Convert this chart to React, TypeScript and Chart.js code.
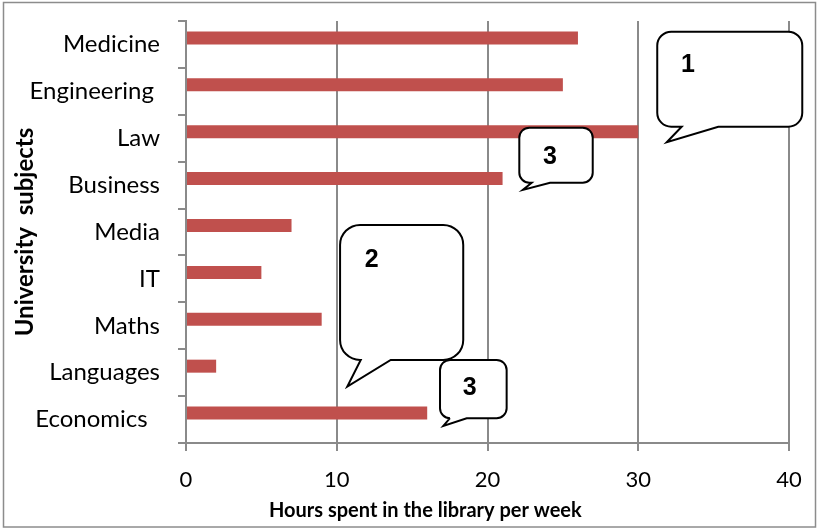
import { useEffect, useRef } from "react";
import { Chart, registerables } from "chart.js";

Chart.register(...registerables);

// Subjects listed top to bottom; trailing spaces keep the label indents.
const subjects = [
  "Medicine",
  "Engineering ",
  "Law",
  "Business",
  "Media",
  "IT",
  "Maths",
  "Languages",
  "Economics  ",
];
const hoursPerWeek = [26, 25, 30, 21, 7, 5, 9, 2, 16];
// Empty partner series: holds the second slot of each bar cluster.
const partnerSeries = [null, null, null, null, null, null, null, null, null];
const hourTicks = [0, 10, 20, 30, 40];

const xTitle = "Hours spent in the library per week";
const yTitle = "University  subjects";

// Speech-bubble callouts, placed in axis units (x: hours, y: row index).
type Callout = {
  label: string;
  left: number;
  right: number;
  top: number;
  bottom: number;
  tailStart: number;
  tailEnd: number;
  tipX: number;
  tipY: number;
  textX: number;
  textY: number;
  radius: number;
};

const callouts: Callout[] = [
  { label: "1", left: 31.26, right: 40.88, top: -0.272, bottom: 1.754, tailStart: 32.88, tailEnd: 35.31, tipX: 31.89, tipY: 2.086, textX: 33.3, textY: 0.449, radius: 14 },
  { label: "3", left: 22.11, right: 26.98, top: 1.775, bottom: 2.948, tailStart: 22.93, tailEnd: 24.15, tipX: 22.34, tipY: 3.103, textX: 24.15, textY: 2.393, radius: 10 },
  { label: "2", left: 10.22, right: 18.39, top: 3.85, bottom: 6.728, tailStart: 11.59, tailEnd: 13.58, tipX: 10.7, tipY: 7.297, textX: 12.32, textY: 4.596, radius: 20 },
  { label: "3", left: 16.85, right: 21.27, top: 6.728, bottom: 7.971, tailStart: 17.51, tailEnd: 18.62, tipX: 17.07, tipY: 8.135, textX: 18.82, textY: 7.332, radius: 10 },
];

const calloutPlugin = {
  id: "callouts",
  afterDraw(chart: any) {
    const { ctx } = chart;
    const xs = chart.scales.x;
    const ys = chart.scales.y;
    const px = (v: number) => xs.getPixelForValue(v);
    const py = (v: number) => ys.getPixelForValue(v);
    ctx.save();
    for (const c of callouts) {
      const l = px(c.left);
      const r = px(c.right);
      const t = py(c.top);
      const b = py(c.bottom);
      const rad = c.radius;
      ctx.beginPath();
      ctx.moveTo(l + rad, t);
      ctx.lineTo(r - rad, t);
      ctx.arcTo(r, t, r, t + rad, rad);
      ctx.lineTo(r, b - rad);
      ctx.arcTo(r, b, r - rad, b, rad);
      ctx.lineTo(px(c.tailEnd), b);
      ctx.lineTo(px(c.tipX), py(c.tipY));
      ctx.lineTo(px(c.tailStart), b);
      ctx.lineTo(l + rad, b);
      ctx.arcTo(l, b, l, b - rad, rad);
      ctx.lineTo(l, t + rad);
      ctx.arcTo(l, t, l + rad, t, rad);
      ctx.closePath();
      ctx.fillStyle = "#ffffff";
      ctx.fill();
      ctx.lineWidth = 2;
      ctx.lineJoin = "miter";
      ctx.strokeStyle = "#000000";
      ctx.stroke();
      ctx.fillStyle = "#000000";
      ctx.font = "bold 25px 'Liberation Sans', Arial, sans-serif";
      ctx.textAlign = "center";
      ctx.textBaseline = "middle";
      ctx.fillText(c.label, px(c.textX), py(c.textY));
    }
    ctx.restore();
  },
};

// Horizontal-axis title, set a little left of the plot's middle.
const xTitleCenter = 0.52; // fraction of the canvas width
const xTitlePlugin = {
  id: "xTitle",
  afterDraw(chart: any) {
    const { ctx, width, height } = chart;
    ctx.save();
    ctx.fillStyle = "#000000";
    ctx.font = "bold 20px Lato, 'Open Sans', sans-serif";
    ctx.textAlign = "center";
    ctx.textBaseline = "alphabetic";
    ctx.fillText(xTitle, width * xTitleCenter, height - 12);
    ctx.restore();
  },
};

const framePlugin = {
  id: "frame",
  afterDraw(chart: any) {
    const { ctx, width, height } = chart;
    ctx.save();
    ctx.strokeStyle = "#8c8c8c";
    ctx.lineWidth = 1.5;
    ctx.strokeRect(3.5, 2.5, width - 6, height - 4.5);
    ctx.restore();
  },
};

export default function App() {
  const canvasRef = useRef<HTMLCanvasElement | null>(null);

  useEffect(() => {
    if (!canvasRef.current) return;
    Chart.defaults.font.family = "Lato, 'Open Sans', sans-serif";
    Chart.defaults.color = "#000000";
    const chart = new Chart(canvasRef.current, {
      type: "bar",
      data: {
        labels: subjects,
        datasets: [
          {
            label: "Hours",
            data: hoursPerWeek,
            backgroundColor: "#C0504D",
            borderWidth: 0,
          },
          {
            label: "",
            data: partnerSeries as any,
            backgroundColor: "#4F81BD",
            borderWidth: 0,
          },
        ],
      },
      options: {
        indexAxis: "y",
        animation: false,
        responsive: false,
        maintainAspectRatio: false,
        layout: { padding: { top: 21, right: 29, left: 0, bottom: 0 } },
        datasets: {
          bar: { categoryPercentage: 0.555, barPercentage: 1 },
        },
        plugins: {
          legend: { display: false },
          tooltip: { enabled: false },
        },
        scales: {
          x: {
            type: "linear",
            min: 0,
            max: 40,
            afterBuildTicks: (scale: any) => {
              scale.ticks = hourTicks.map((v) => ({ value: v }));
            },
            ticks: {
              color: "#000000",
              font: { size: 22 },
              padding: 16,
              maxRotation: 0,
            },
            grid: { color: "#8a8a8a", lineWidth: 2, tickLength: 8, drawTicks: true },
            border: { color: "#8a8a8a", width: 2 },
            afterFit: (scale: any) => {
              scale.height = 86;
              scale.paddingLeft = 0;
              scale.paddingRight = 0;
            },
          },
          y: {
            type: "category",
            offset: true,
            grid: {
              offset: true,
              drawOnChartArea: false,
              color: "#8a8a8a",
              lineWidth: 2,
              tickLength: 8,
            },
            border: { color: "#8a8a8a", width: 2 },
            ticks: {
              color: "#000000",
              font: { size: 24 },
              padding: 18,
              autoSkip: false,
            },
            title: {
              display: true,
              text: yTitle,
              color: "#000000",
              font: { size: 24, weight: "bold" },
              padding: { top: 11, bottom: 0 },
            },
            afterFit: (scale: any) => {
              scale.width = 186;
              scale.paddingTop = 0;
              scale.paddingBottom = 0;
            },
          },
        },
      } as any,
      plugins: [calloutPlugin, xTitlePlugin, framePlugin],
    });
    return () => chart.destroy();
  }, []);

  return (
    <div style={{ position: "fixed", left: 0, top: 0, width: 818, height: 529, background: "#ffffff" }}>
      <canvas ref={canvasRef} width={818} height={529} style={{ display: "block" }} />
    </div>
  );
}
